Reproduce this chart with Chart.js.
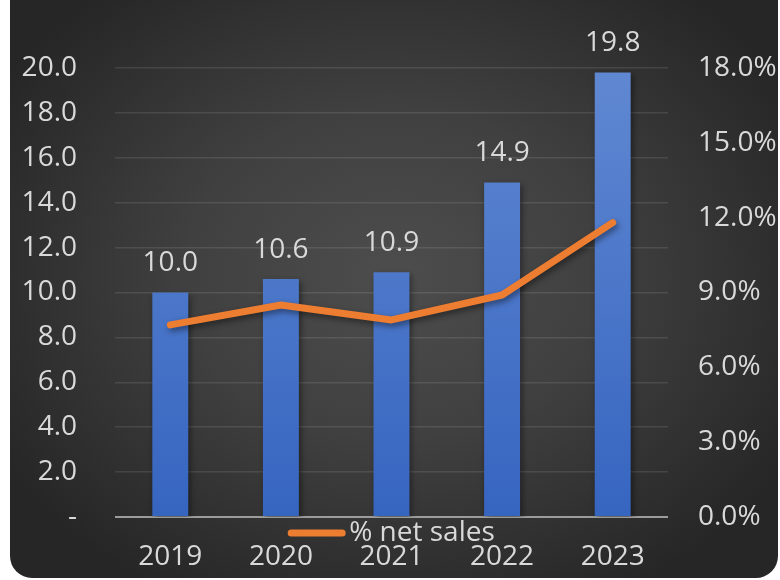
<!DOCTYPE html>
<html>
<head>
<meta charset="utf-8">
<script src="https://cdn.jsdelivr.net/npm/chart.js@4/dist/chart.umd.min.js"></script>
<style>
  html, body { margin: 0; padding: 0; background: #ffffff; }
  #wrap { position: relative; width: 780px; height: 580px; overflow: hidden; }
  #panel {
    position: absolute; left: 10px; top: -30px; width: 768px; height: 608px;
    border-radius: 22px;
    background: radial-gradient(ellipse 60% 60% at 50% 50%, #4d4d4d 0%, #404040 45%, #262626 100%);
  }
  #myChart { position: absolute; left: 0; top: 0; }
</style>
</head>
<body>
<div id="wrap">
  <div id="panel"></div>
  <canvas id="myChart" width="780" height="580"></canvas>
</div>
<script>
//my data
const years = ['2019', '2020', '2021', '2022', '2023']
const amounts = [10.0, 10.6, 10.9, 14.9, 19.8]
const netSalesPct = [7.7, 8.5, 7.9, 8.9, 11.8]
const lineLabel = '% net sales'

const textColor = '#d9d9d9'
const fontFamily = "'Open Sans', sans-serif"
const fontSize = 28

/////////////////////////////////////////////////////////////
//plugins
/////////////////////////////////////////////////////////////
// soft drop shadow under bars and line
const shadowPlugin = {
    id: 'shadows',
    beforeDatasetDraw(chart) {
        const ctx = chart.ctx
        ctx.save()
        ctx.shadowColor = 'rgba(0,0,0,0.45)'
        ctx.shadowBlur = 6
        ctx.shadowOffsetX = 2
        ctx.shadowOffsetY = 3
    },
    afterDatasetDraw(chart) {
        chart.ctx.restore()
    }
}

// values above the bars
const barLabels = {
    id: 'barLabels',
    afterDatasetsDraw(chart) {
        const ctx = chart.ctx
        const meta = chart.getDatasetMeta(0)
        ctx.save()
        ctx.fillStyle = textColor
        ctx.font = fontSize + 'px ' + fontFamily
        ctx.textAlign = 'center'
        ctx.textBaseline = 'bottom'
        meta.data.forEach((bar, i) => {
            ctx.fillText(amounts[i].toFixed(1), bar.x, bar.y - 15)
        })
        ctx.restore()
    }
}

// legend sits between the axis line and the year labels
const lineLegend = {
    id: 'lineLegend',
    afterDraw(chart) {
        const ctx = chart.ctx
        ctx.save()
        ctx.font = fontSize + 'px ' + fontFamily
        const tw = ctx.measureText(lineLabel).width
        const sample = 57
        const gap = 4
        const total = sample + gap + tw
        const cx = (chart.chartArea.left + chart.chartArea.right) / 2
        const x0 = cx - total / 2
        const y = 533
        ctx.strokeStyle = '#ED7D31'
        ctx.lineWidth = 7
        ctx.lineCap = 'round'
        ctx.beginPath()
        ctx.moveTo(x0 + 3, y)
        ctx.lineTo(x0 + sample - 3, y)
        ctx.stroke()
        ctx.fillStyle = textColor
        ctx.textAlign = 'left'
        ctx.textBaseline = 'middle'
        ctx.fillText(lineLabel, x0 + sample + gap, y)
        ctx.restore()
    }
}

function barGradient(context) {
    const chart = context.chart
    const area = chart.chartArea
    if (!area) return '#4472C4'
    const g = chart.ctx.createLinearGradient(0, area.top, 0, area.bottom)
    g.addColorStop(0, '#6088d2')
    g.addColorStop(1, '#3665c0')
    return g
}

/////////////////////////////////////////////////////////////
//Chart
/////////////////////////////////////////////////////////////
const data = {
    labels: years,
    datasets: [{
        type: 'bar',
        label: 'Amount',
        data: amounts,
        backgroundColor: barGradient,
        borderWidth: 0,
        barPercentage: 0.65,
        categoryPercentage: 0.5,
        yAxisID: 'y',
        order: 2
    }, {
        type: 'line',
        label: lineLabel,
        data: netSalesPct,
        borderColor: '#ED7D31',
        backgroundColor: '#ED7D31',
        borderWidth: 7,
        borderCapStyle: 'round',
        borderJoinStyle: 'round',
        pointRadius: 0,
        tension: 0,
        fill: false,
        yAxisID: 'y1',
        order: 1
    }]
}

const config = {
    type: 'bar',
    data: data,
    plugins: [shadowPlugin, barLabels, lineLegend],
    options: {
        responsive: false,
        animation: false,
        layout: { padding: { top: 68, left: 0, right: 0, bottom: 0 } },
        plugins: {
            legend: { display: false },
            tooltip: { enabled: false }
        },
        scales: {
            x: {
                grid: { display: false, drawTicks: false },
                border: { display: false },
                ticks: {
                    color: textColor,
                    font: { family: fontFamily, size: fontSize },
                    padding: 23
                },
                afterFit(scale) { scale.height = 63 }
            },
            y: {
                position: 'left',
                min: 0,
                max: 20,
                grid: {
                    drawTicks: false,
                    color: (c) => c.tick && c.tick.value === 0 ? '#9c9c9c' : 'rgba(255,255,255,0.10)',
                    lineWidth: (c) => c.tick && c.tick.value === 0 ? 2 : 1.5
                },
                border: { display: false },
                ticks: {
                    stepSize: 2,
                    color: textColor,
                    font: { family: fontFamily, size: fontSize },
                    padding: 38,
                    callback: (v) => v === 0 ? '-' : v.toFixed(1)
                },
                afterFit(scale) { scale.width = 115 }
            },
            y1: {
                position: 'right',
                min: 0,
                max: 18,
                grid: { display: false, drawTicks: false },
                border: { display: false },
                ticks: {
                    stepSize: 3,
                    color: textColor,
                    font: { family: fontFamily, size: fontSize },
                    padding: 30,
                    callback: (v) => v.toFixed(1) + '%'
                },
                afterFit(scale) { scale.width = 112 }
            }
        }
    }
}

// render
const myChart = new Chart(document.getElementById('myChart'), config)
</script>
</body>
</html>
